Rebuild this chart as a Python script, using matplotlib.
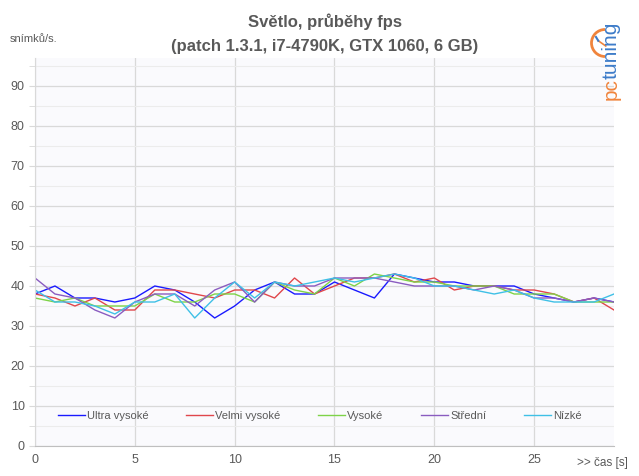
import numpy as np
import matplotlib
matplotlib.use('Agg')
from matplotlib import pyplot as plt
from matplotlib.patches import Arc

plt.rcParams['font.family'] = ['Liberation Sans', 'DejaVu Sans']

# fps per second of the run
seconds = list(range(30))
ultra = [38, 40, 37, 37, 36, 37, 40, 39, 36, 32, 35, 39, 41, 38, 38, 41, 39, 37, 43, 42,
         41, 41, 40, 40, 40, 38, 37, 36, 37, 36]
velmi = [38, 37, 35, 37, 34, 34, 39, 39, 38, 37, 39, 39, 37, 42, 38, 40, 42, 42, 43, 41,
         42, 39, 40, 40, 39, 39, 38, 36, 37, 34]
vysoke = [37, 36, 37, 35, 35, 35, 38, 36, 36, 38, 38, 36, 41, 39, 38, 42, 40, 43, 42, 41,
          41, 40, 40, 40, 38, 38, 38, 36, 36, 36]
stredni = [42, 38, 37, 34, 32, 36, 38, 38, 35, 39, 41, 36, 41, 40, 40, 42, 42, 42, 41, 40,
           40, 40, 39, 40, 39, 37, 37, 36, 37, 36]
nizke = [39, 36, 36, 35, 33, 36, 36, 38, 32, 37, 41, 37, 41, 40, 41, 42, 41, 42, 43, 42,
         40, 40, 39, 38, 39, 37, 36, 36, 36, 38]

series = [('Ultra vysoké', ultra, '#1a1aff'),
          ('Velmi vysoké', velmi, '#e0474c'),
          ('Vysoké', vysoke, '#7ed348'),
          ('Střední', stredni, '#8a5cc0'),
          ('Nízké', nizke, '#3fc0e6')]

txt = '#595959'
grid = '#d9d9d9'

fig = plt.figure(figsize=(6.39, 4.76), dpi=100)
ax = fig.add_axes([35 / 639, 30 / 476, 579 / 639, 388 / 476])
ax.set_facecolor('#fafafd')

for name, vals, col in series:
    ax.plot(seconds, vals, color=col, linewidth=1.0, label=name)

ax.set_xlim(0, 29)
ax.set_ylim(0, 97)
ax.set_xticks([0, 5, 10, 15, 20, 25])
ax.set_yticks(np.arange(0, 91, 10))
ax.set_yticks(np.arange(5, 96, 10), minor=True)
ax.grid(True, which='major', color=grid, linewidth=0.9)
ax.grid(True, which='minor', axis='y', color='#ececec', linewidth=0.8)
ax.set_axisbelow(True)
for s in ['top', 'right']:
    ax.spines[s].set_visible(False)
ax.spines['left'].set_color(grid)
ax.spines['bottom'].set_color('#bfbfbf')
ax.tick_params(axis='both', which='both', colors=grid, labelcolor=txt, labelsize=9,
               length=4)
ax.tick_params(axis='x', length=0, pad=6)

ax.legend(loc='center', bbox_to_anchor=(0.492, 0.077), ncol=5, frameon=False,
          fontsize=8, handlelength=2.4, handletextpad=0.2, columnspacing=3.4,
          labelcolor=txt)

fig.text(325 / 639, 1 - 22 / 476, 'Světlo, průběhy fps', ha='center', va='center',
         fontsize=12, fontweight='bold', color=txt)
fig.text(325 / 639, 1 - 46 / 476, '(patch 1.3.1, i7-4790K, GTX 1060, 6 GB)',
         ha='center', va='center', fontsize=12, fontweight='bold', color=txt)
fig.text(10 / 639, 1 - 39 / 476, 'snímků/s.', ha='left', va='center', fontsize=8,
         color=txt)
fig.text(628 / 639, 1 - 463 / 476, '>> čas [s]', ha='right', va='center', fontsize=8.5,
         color=txt)

# pctuning logo
fig.text(611 / 639, 1 - 89 / 476, 'pc', rotation=90, ha='center', va='center',
         fontsize=15, color='#f0843c')
fig.text(611 / 639, 1 - 50 / 476, 'tuning', rotation=90, ha='center', va='center',
         fontsize=15, color='#3d7cc9')
lax = fig.add_axes([590 / 639, 1 - 58 / 476, 30 / 639, 30 / 476])
lax.set_xlim(-1, 1)
lax.set_ylim(-1, 1)
lax.axis('off')
lax.add_patch(Arc((0, 0), 1.8, 1.8, theta1=90, theta2=270, color='#f0843c', linewidth=2))
lax.plot([-0.45, 0.05], [0.15, -0.2], color='#f0843c', linewidth=1.2)
lax.plot([-0.6, -0.45], [0.4, 0.15], color='#3d7cc9', linewidth=1.5)

fig.savefig('out.png', dpi=100)
